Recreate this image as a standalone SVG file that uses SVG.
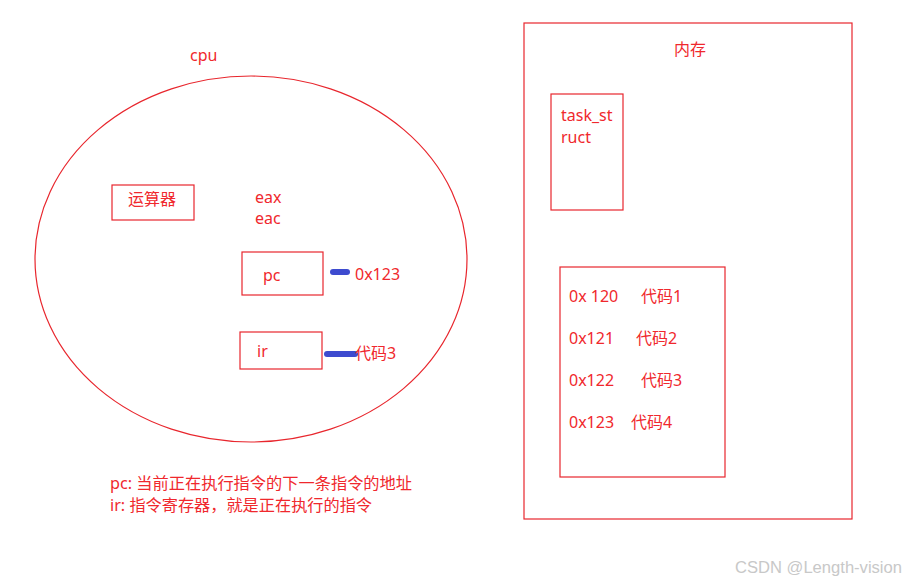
<svg xmlns="http://www.w3.org/2000/svg" width="906" height="583" viewBox="0 0 906 583">
<style>
.b{fill:none;stroke:#e8262d;stroke-width:1.2}
.t{fill:#f0282d;font-family:"Noto Sans","Noto Sans CJK SC",sans-serif;font-size:16px}
.c{stroke:#3d4bcf;stroke-width:6;stroke-linecap:round}
</style>
<rect width="906" height="583" fill="#fff"/>
<g id="cpu">
<ellipse class="b" cx="251" cy="259" rx="216" ry="183"/>
<text class="t" x="190" y="61">cpu</text>
</g>
<g id="alu"><rect class="b" x="112" y="185" width="82" height="35"/><text class="t" x="128" y="205">运算器</text></g>
<g id="regs"><text class="t" x="255" y="203">eax</text><text class="t" x="255" y="224">eac</text></g>
<g id="pc"><rect class="b" x="242" y="252" width="81" height="43"/><text class="t" x="263" y="281">pc</text></g>
<g id="ir"><rect class="b" x="240" y="332" width="82" height="37"/><text class="t" x="257" y="357">ir</text></g>
<g id="connectors">
<line class="c" x1="333" y1="272" x2="347" y2="272"/>
<line class="c" x1="327" y1="354" x2="355" y2="354"/>
</g>
<g id="pcval"><text class="t" x="355" y="280">0x123</text></g>
<g id="irval"><text class="t" x="355" y="359">代码3</text></g>
<g id="mem">
<rect class="b" x="524" y="23" width="328" height="496"/>
<text class="t" x="674" y="55">内存</text>
</g>
<g id="task"><rect class="b" x="551" y="94" width="72" height="116"/><text class="t" x="561" y="121">task_st</text><text class="t" x="561" y="143">ruct</text></g>
<g id="code">
<rect class="b" x="560" y="267" width="165" height="210"/>
<text class="t" x="569" y="302">0x 120</text><text class="t" x="641" y="302">代码1</text>
<text class="t" x="569" y="344">0x121</text><text class="t" x="636" y="344">代码2</text>
<text class="t" x="569" y="386">0x122</text><text class="t" x="641" y="386">代码3</text>
<text class="t" x="569" y="428">0x123</text><text class="t" x="631" y="428">代码4</text>
</g>
<g id="notes">
<text class="t" x="110" y="489" textLength="302" lengthAdjust="spacingAndGlyphs">pc: 当前正在执行指令的下一条指令的地址</text>
<text class="t" x="110" y="511" textLength="262" lengthAdjust="spacingAndGlyphs">ir: 指令寄存器，就是正在执行的指令</text>
</g>
<text x="735" y="573" fill="#c8c8c8" font-family="'Liberation Sans',sans-serif" font-size="16" textLength="167" lengthAdjust="spacingAndGlyphs">CSDN @Length-vision</text>
</svg>
